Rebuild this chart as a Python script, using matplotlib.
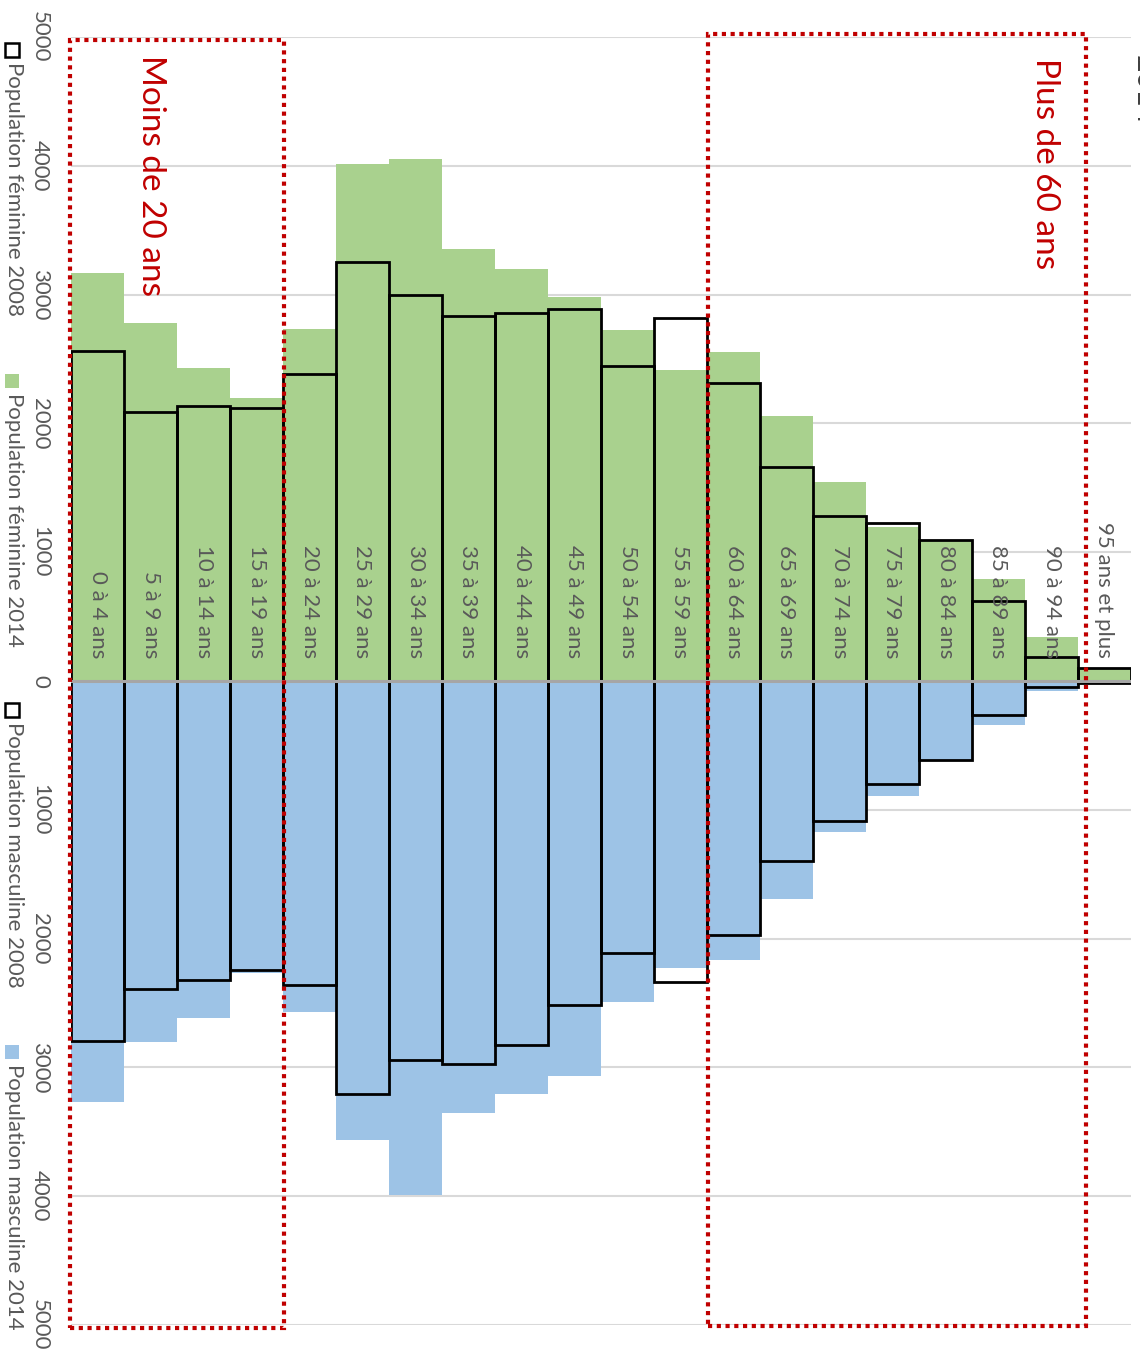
import matplotlib
matplotlib.use("Agg")
import matplotlib.pyplot as plt
from matplotlib.patches import Rectangle
import numpy as np

# ---- data -------------------------------------------------------------
age_groups = ["0 à 4 ans", "5 à 9 ans", "10 à 14 ans", "15 à 19 ans",
              "20 à 24 ans", "25 à 29 ans", "30 à 34 ans", "35 à 39 ans",
              "40 à 44 ans", "45 à 49 ans", "50 à 54 ans", "55 à 59 ans",
              "60 à 64 ans", "65 à 69 ans", "70 à 74 ans", "75 à 79 ans",
              "80 à 84 ans", "85 à 89 ans", "90 à 94 ans", "95 ans et plus"]

fem_2014 = [3170, 2780, 2430, 2200, 2735, 4015, 4055, 3355, 3200, 2980,
            2725, 2415, 2555, 2055, 1545, 1195, 1085, 790, 345, 100]
fem_2008 = [2560, 2090, 2135, 2120, 2385, 3255, 3000, 2835, 2860, 2890,
            2445, 2820, 2315, 1660, 1280, 1225, 1095, 620, 185, 100]
masc_2014 = [3270, 2800, 2620, 2265, 2570, 3565, 3990, 3355, 3205, 3065,
             2490, 2230, 2165, 1695, 1170, 895, 620, 345, 80, 5]
masc_2008 = [2795, 2395, 2320, 2245, 2360, 3205, 2945, 2975, 2825, 2515,
             2110, 2335, 1970, 1395, 1085, 800, 615, 265, 50, 15]

value_ticks = [-5000, -4000, -3000, -2000, -1000, 0,
               1000, 2000, 3000, 4000, 5000]

legend_labels = ["Population féminine 2008", "Population féminine 2014",
                 "Population masculine 2008", "Population masculine 2014"]

# ---- style ------------------------------------------------------------
GREEN = "#A9D18E"
BLUE = "#9DC3E6"
RED = "#C00000"
GREY_TXT = "#595959"
FONT = "Lato"

W, H = 1140, 1351
fig = plt.figure(figsize=(W / 100, H / 100), dpi=100)
fig.patch.set_facecolor("white")


def fx(px):
    return px / W


def fy(py):
    return 1 - py / H


ax = fig.add_axes([fx(71), 26 / H, (1131 - 71) / W, (1325 - 37) / H])
x = np.arange(len(age_groups))

# filled bars: 2014
ax.bar(x, fem_2014, width=1.0, color=GREEN, zorder=2)
ax.bar(x, [-v for v in masc_2014], width=1.0, color=BLUE, zorder=2)

# outlined bars: 2008
ax.bar(x, fem_2008, width=1.0, fill=False, edgecolor="black", lw=2.0, zorder=4)
ax.bar(x, [-v for v in masc_2008], width=1.0, fill=False, edgecolor="black",
       lw=2.0, zorder=4)

# zero (category) axis line, drawn over the bars
ax.axhline(0, color="#A6A6A6", lw=2.2, zorder=5)

ax.set_xlim(-0.5, len(age_groups) - 0.5)
ax.set_ylim(-5000, 5000)
ax.set_xticks([])
ax.set_yticks(value_ticks)
ax.set_yticklabels([str(abs(v)) for v in value_ticks], rotation=-90,
                   va="center", family=FONT)
ax.tick_params(axis="y", length=0, pad=15, labelcolor=GREY_TXT, labelsize=16)
ax.yaxis.grid(True, color="#D9D9D9", lw=1.5)
ax.set_axisbelow(True)
for s in ax.spines.values():
    s.set_visible(False)

# age-group labels along the zero line
for i, lab in enumerate(age_groups):
    ax.text(i, 178, lab, rotation=-90, rotation_mode="anchor", ha="right",
            va="center", fontsize=16, color=GREY_TXT, family=FONT, zorder=6)

# dotted highlight boxes
dots = (0, (1.0, 1.1))
ax.add_patch(Rectangle((-0.52, -5023), 4.04, 10000, fill=False,
                       edgecolor=RED, lw=3.0, linestyle=dots,
                       clip_on=False, zorder=7))
ax.add_patch(Rectangle((11.52, -5008), 7.13, 10031, fill=False,
                       edgecolor=RED, lw=3.0, linestyle=dots,
                       clip_on=False, zorder=7))

fig.text(fx(142), fy(55), "Moins de 20 ans", rotation=-90,
         rotation_mode="anchor", ha="left", va="baseline", fontsize=24,
         color=RED, family=FONT)
fig.text(fx(1036), fy(58), "Plus de 60 ans", rotation=-90,
         rotation_mode="anchor", ha="left", va="baseline", fontsize=24,
         color=RED, family=FONT)

# title (at the right edge)
fig.text(fx(1136), fy(55), "2014", rotation=-90, rotation_mode="anchor",
         ha="left", va="baseline", fontsize=22, color="#404040", family=FONT)

# legend, written along the left edge
legend_pos = [43, 374, 703, 1045]
legend_style = [dict(fill=False, edgecolor="black", lw=1.8),
                dict(facecolor=GREEN, edgecolor="none"),
                dict(fill=False, edgecolor="black", lw=1.8),
                dict(facecolor=BLUE, edgecolor="none")]
for lab, top, st in zip(legend_labels, legend_pos, legend_style):
    fig.add_artist(Rectangle((fx(5), fy(top + 14)), 14 / W, 14 / H,
                             transform=fig.transFigure, **st))
    fig.text(fx(8), fy(top + 19), lab, rotation=-90, rotation_mode="anchor",
             ha="left", va="baseline", fontsize=16, color=GREY_TXT,
             family=FONT)

fig.savefig("out.png", dpi=100)
